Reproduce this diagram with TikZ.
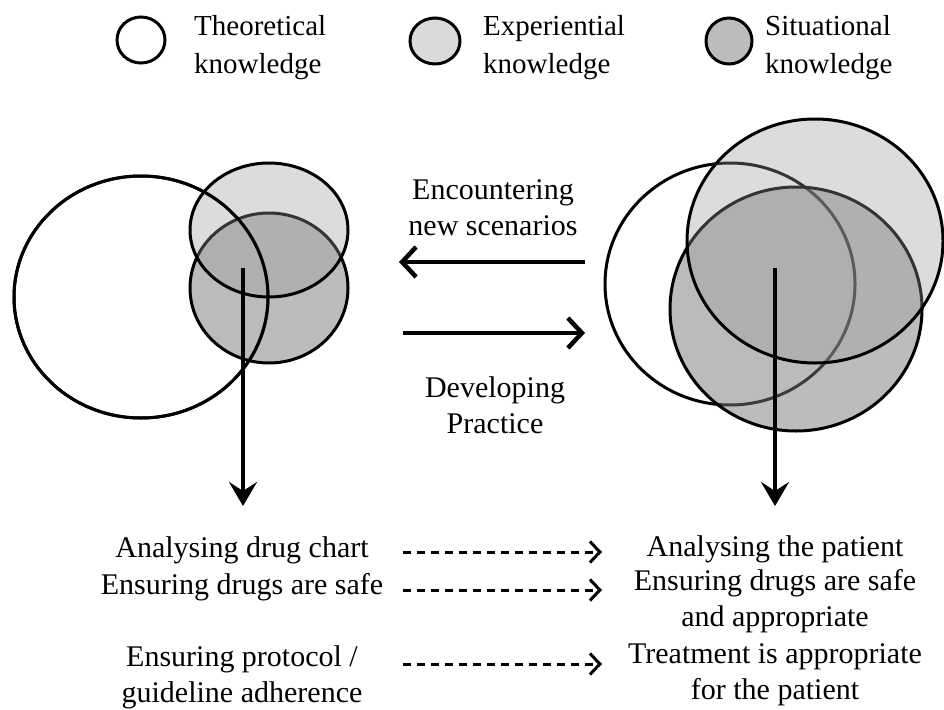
\documentclass[tikz,border=0pt]{standalone}
\usepackage{fontspec}
\setmainfont{Liberation Serif}
\usetikzlibrary{arrows.meta,shapes.geometric}
\definecolor{expgray}{RGB}{153,153,153}
\definecolor{sitgray}{RGB}{121,121,121}
\definecolor{legexp}{RGB}{218,218,218}
\definecolor{legsit}{RGB}{188,188,188}
\begin{document}
\begin{tikzpicture}[x=1pt,y=-1pt,
  ring/.style={ellipse, draw, line width=3pt, inner sep=0pt, outer sep=0pt},
  theo/.style={ring, fill=white},
  expo/.style={ring, fill=expgray, fill opacity=0.34},
  situ/.style={ring, fill=sitgray, fill opacity=0.5},
  txt/.style={font=\fontsize{30}{36}\selectfont, align=center, inner sep=0pt},
  legendtext/.style={font=\fontsize{29}{38}\selectfont, align=left, anchor=west, inner sep=0pt},
  flow/.style={line width=4.5pt, -{Straight Barb[length=14pt,width=30pt]}},
  downarrow/.style={line width=4.5pt, -{Stealth[length=24pt,width=28pt,inset=9pt]}},
  maps/.style={line width=3pt, dash pattern=on 8pt off 6pt, -{Straight Barb[length=10pt,width=21pt]}},
]
\useasboundingbox (0,0) rectangle (944,709);

% legend
\node[ring, fill=white, minimum width=48pt, minimum height=46pt] (keyT) at (141,40) {};
\node[legendtext] (keyTt) at (194,48) {Theoretical\\knowledge};
\node[ring, fill=legexp, minimum width=50pt, minimum height=46pt] (keyE) at (435,41) {};
\node[legendtext] (keyEt) at (483,48) {Experiential\\knowledge};
\node[ring, fill=legsit, minimum width=46pt, minimum height=46pt] (keyS) at (729,41) {};
\node[legendtext] (keySt) at (765,48) {Situational\\knowledge};

% early practice: theory dominates
\node[theo, minimum width=254pt, minimum height=242pt] (Lt) at (141,297) {};
\node[situ, minimum width=158pt, minimum height=150pt] (Ls) at (269,288) {};
\node[expo, minimum width=158pt, minimum height=134pt] (Le) at (269,230) {};
\draw[line width=3pt] (Lt.center) ellipse [x radius=127pt, y radius=121pt];

% developed practice: the three overlap
\node[theo, minimum width=250pt, minimum height=242pt] (Rt) at (730,284) {};
\node[situ, minimum width=252pt, minimum height=244pt] (Rs) at (796,309) {};
\node[expo, minimum width=256pt, minimum height=244pt] (Re) at (815,241) {};

% downward arrows
\coordinate (Lsrc) at (243,268);
\coordinate (Ldst) at (243,506);
\draw[downarrow] (Lsrc) -- (Ldst);
\coordinate (Rsrc) at (775,268);
\coordinate (Rdst) at (775,506);
\draw[downarrow] (Rsrc) -- (Rdst);

% transitions
\node[txt] (enc) at (493,208) {Encountering\\new scenarios};
\coordinate (encA) at (585,262);
\coordinate (encB) at (399,262);
\draw[flow] (encA) -- (encB);
\node[txt] (dev) at (495,405) {Developing\\Practice};
\coordinate (devA) at (403,333);
\coordinate (devB) at (585,333);
\draw[flow] (devA) -- (devB);

% outcomes
\node[txt] (a1) at (242,550) {Analysing drug chart};
\node[txt] (a2) at (242,587) {Ensuring drugs are safe};
\node[txt] (a3) at (242,677) {Ensuring protocol /\\guideline adherence};
\node[txt] (b1) at (775,549) {Analysing the patient};
\node[txt] (b2) at (775,601) {Ensuring drugs are safe\\and appropriate};
\node[txt] (b3) at (775,675) {Treatment is appropriate\\for the patient};

\coordinate (m1a) at (403,552);
\coordinate (m1b) at (602,552);
\coordinate (m2a) at (403,590);
\coordinate (m2b) at (602,590);
\coordinate (m3a) at (403,664);
\coordinate (m3b) at (602,664);
\draw[maps] (m1a) -- (m1b);
\draw[maps] (m2a) -- (m2b);
\draw[maps] (m3a) -- (m3b);
\end{tikzpicture}
\end{document}
